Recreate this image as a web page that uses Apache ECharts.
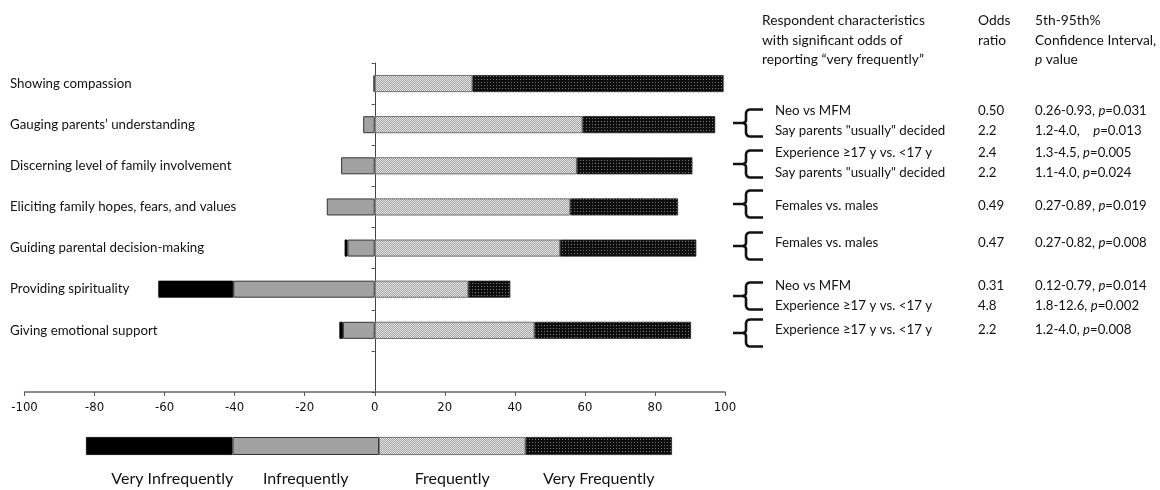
<!DOCTYPE html>
<html>
<head>
<meta charset="utf-8">
<script src="https://cdn.jsdelivr.net/npm/echarts@6/dist/echarts.min.js"></script>
<style>
  html, body { margin: 0; padding: 0; background: #fff; }
  #chart { width: 1160px; height: 490px; }
</style>
</head>
<body>
<div id="chart"></div>
<script>
// Communication skills and how often respondents report using them (% of respondents)
const categories = [
  'Showing compassion',
  'Gauging parents\u2019 understanding',
  'Discerning level of family involvement',
  'Eliciting family hopes, fears, and values',
  'Guiding parental decision-making',
  'Providing spirituality',
  'Giving emotional support',
  ''
];
const veryInfrequently = [0, 0, 0, 0, 0.8, 21.4, 1.0];
const infrequently     = [0.4, 3.3, 9.6, 13.7, 7.8, 40.4, 9.1];
const frequently       = [27.9, 59.3, 57.7, 55.8, 52.9, 26.7, 45.6];
const veryFrequently   = [71.7, 37.9, 33.0, 30.8, 38.9, 12.0, 44.7];

const xMin = -100, xMax = 100, xStep = 20;

const frequencyNames = ['Very Infrequently', 'Infrequently', 'Frequently', 'Very Frequently'];
const legendShare = [1, 1, 1, 1];

// Table of respondent characteristics
const headChar = ['Respondent characteristics', 'with significant odds of', 'reporting \u201cvery frequently\u201d'];
const headOdds = ['Odds', 'ratio'];
const headCI = ['5th-95th%', 'Confidence Interval,', '{i|p} value'];

const rowChar = [
  'Neo vs MFM',
  'Say parents "usually" decided',
  'Experience \u226517 y vs. <17 y',
  'Say parents "usually" decided',
  'Females vs. males',
  'Females vs. males',
  'Neo vs MFM',
  'Experience \u226517 y vs. <17 y',
  'Experience \u226517 y vs. <17 y'
];
const rowOdds = ['0.50', '2.2', '2.4', '2.2', '0.49', '0.47', '0.31', '4.8', '2.2'];
const rowCI = ['0.26-0.93, ', '1.2-4.0,    ', '1.3-4.5, ', '1.1-4.0, ', '0.27-0.89, ', '0.27-0.82, ', '0.12-0.79, ', '1.8-12.6, ', '1.2-4.0, '];
const rowP = ['0.031', '0.013', '0.005', '0.024', '0.019', '0.008', '0.014', '0.002', '0.008'];

// table layout (pixels)
const headY = [21, 41, 60];
const rowY = [111, 131, 153, 173, 206, 243, 286, 306, 330];
const braceY = [123, 164, 204, 246, 296, 333];
const colX = { head: 762, char: 775, odds: 978, ci: 1035 };

const textFont = 'Lato, "Open Sans", sans-serif';
const narrowFont = '"Liberation Sans Narrow", "DejaVu Sans Condensed", "Roboto Condensed", sans-serif';
const ink = '#111111';

function makePattern(size, bg, dots) {
  const c = document.createElement('canvas');
  c.width = size; c.height = size;
  const g = c.getContext('2d');
  g.fillStyle = bg;
  g.fillRect(0, 0, size, size);
  dots.forEach(function (d) { g.fillStyle = d[2]; g.fillRect(d[0], d[1], 1, 1); });
  return c;
}
const freqFill = { image: makePattern(2, '#e6e6e6', [[1, 0, '#a2a2a2'], [0, 1, '#a2a2a2']]), repeat: 'repeat' };
const veryFreqFill = { image: makePattern(3, '#0e0e0e', [[1, 1, '#7a7a7a']]), repeat: 'repeat' };

const styles = [
  { color: '#000000', borderColor: '#000000', borderWidth: 0.8 },
  { color: '#a2a2a2', borderColor: '#333333', borderWidth: 1 },
  { color: freqFill, borderColor: '#555555', borderWidth: 0.8 },
  { color: veryFreqFill, borderColor: '#222222', borderWidth: 0.8 }
];

function negate(arr) { return arr.map(function (v) { return v ? -v : '-'; }); }

const mainData = [negate(veryInfrequently), negate(infrequently), frequently, veryFrequently];
// negative side stacks outward from zero: infrequently first, then very infrequently
const stackOrder = [1, 0, 2, 3];

const series = [];
stackOrder.forEach(function (k) {
  series.push({
    type: 'bar',
    name: frequencyNames[k],
    xAxisIndex: 0,
    yAxisIndex: 0,
    stack: 'freq',
    barWidth: 17,
    data: mainData[k],
    itemStyle: styles[k],
    emphasis: { disabled: true },
    silent: true
  });
});
frequencyNames.forEach(function (name, k) {
  series.push({
    type: 'bar',
    name: name + ' key',
    xAxisIndex: 1,
    yAxisIndex: 2,
    stack: 'key',
    barWidth: 18,
    data: [legendShare[k]],
    itemStyle: styles[k],
    label: {
      show: true,
      position: 'bottom',
      distance: 16,
      offset: [k === 0 ? 13 : 0, 0],
      formatter: name,
      fontFamily: textFont,
      fontSize: 16,
      color: ink
    },
    emphasis: { disabled: true },
    silent: true
  });
});

// table text and braces
const graphics = [];
function addText(x, y, text, size) {
  graphics.push({
    type: 'text', x: x, y: y, silent: true,
    style: {
      text: text, fontFamily: textFont, fontSize: size, fill: ink,
      verticalAlign: 'middle', align: 'left',
      rich: { i: { fontStyle: 'italic', fontFamily: textFont, fontSize: size, fill: ink } }
    }
  });
}
headChar.forEach(function (t, i) { addText(colX.head, headY[i], t, 13.8); });
headOdds.forEach(function (t, i) { addText(colX.odds, headY[i], t, 13.8); });
headCI.forEach(function (t, i) { addText(colX.ci, headY[i], t, 13.8); });
rowChar.forEach(function (t, i) {
  addText(colX.char, rowY[i], t, 13.3);
  addText(colX.odds, rowY[i], rowOdds[i], 13.3);
  addText(colX.ci, rowY[i], rowCI[i] + '{i|p}=' + rowP[i], 13.2);
});

function arcPoints(cx, cy, r, a0, a1, n) {
  const pts = [];
  for (let s = 0; s <= n; s++) {
    const a = a0 + (a1 - a0) * s / n;
    pts.push([cx + r * Math.cos(a), cy + r * Math.sin(a)]);
  }
  return pts;
}
braceY.forEach(function (cy) {
  const xl = 733, xv = 746, xr = 763, h = 13.5, r = 4, r2 = 3;
  const upper = [[xr, cy - h]]
    .concat(arcPoints(xv + r, cy - h + r, r, -Math.PI / 2, -Math.PI, 5))
    .concat(arcPoints(xv - r2, cy - r2, r2, 0, Math.PI / 2, 5))
    .concat([[xl, cy]]);
  const lower = [[xv - r2, cy]]
    .concat(arcPoints(xv - r2, cy + r2, r2, -Math.PI / 2, 0, 5))
    .concat(arcPoints(xv + r, cy + h - r, r, Math.PI, Math.PI / 2, 5))
    .concat([[xr, cy + h]]);
  [upper, lower].forEach(function (pts) {
    graphics.push({
      type: 'polyline', silent: true,
      shape: { points: pts },
      style: { fill: null, stroke: '#111', lineWidth: 2.6, lineJoin: 'round' }
    });
  });
});

const option = {
  animation: false,
  backgroundColor: '#ffffff',
  grid: [
    { left: 24.5, right: 435, top: 63, bottom: 98 },
    { left: 86, right: 488, top: 437, height: 18 }
  ],
  xAxis: [
    {
      gridIndex: 0, type: 'value', min: xMin, max: xMax, interval: xStep,
      splitLine: { show: false },
      axisLine: { show: true, lineStyle: { color: '#666', width: 1.5 } },
      axisTick: { show: true, length: 4, lineStyle: { color: '#555', width: 1 } },
      axisLabel: { fontFamily: narrowFont, fontSize: 13, color: ink, margin: 9 }
    },
    { gridIndex: 1, type: 'value', min: 0, max: 4, show: false }
  ],
  yAxis: [
    {
      gridIndex: 0, type: 'category', data: categories, inverse: true, position: 'left',
      axisLine: { show: false, onZero: false },
      axisTick: { show: false },
      axisLabel: { align: 'left', margin: 14.5, fontFamily: textFont, fontSize: 13.3, color: ink }
    },
    {
      gridIndex: 0, type: 'category', data: categories, inverse: true, position: 'left',
      axisLine: { show: true, onZero: true, lineStyle: { color: '#444', width: 1 } },
      axisTick: { show: true, length: 3, lineStyle: { color: '#444' } },
      axisLabel: { show: false }
    },
    { gridIndex: 1, type: 'category', data: [''], show: false }
  ],
  series: series,
  graphic: graphics
};

const chart = echarts.init(document.getElementById('chart'), null, { renderer: 'canvas' });
chart.setOption(option);
</script>
</body>
</html>
